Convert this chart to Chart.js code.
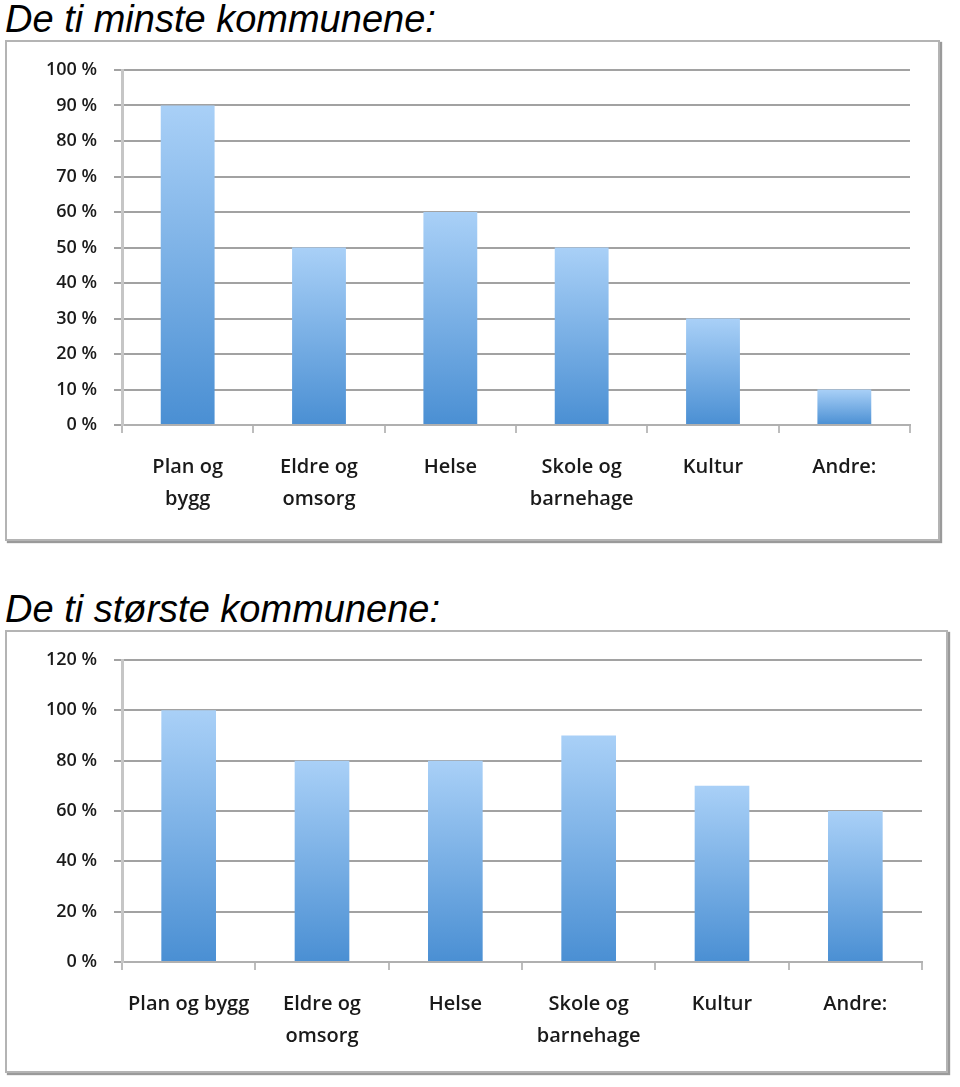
<!DOCTYPE html>
<html>
<head>
    <title>Kommunene</title>
    <script src="https://cdn.jsdelivr.net/npm/chart.js"></script>
    <style>
        body { margin: 0; background: #fff; width: 960px; height: 1087px; position: relative; overflow: hidden; }
        .title { position: absolute; left: 5px; font: italic 38px "Liberation Sans", Arial, sans-serif; line-height: 38px; color: #000; white-space: nowrap; }
        .box { position: absolute; border: 2px solid #b4b4b4; box-shadow: 2px 2px 1px #9a9a9a; background: #fff; }
        .box canvas { display: block; }
    </style>
</head>
<body>
    <div class="title" style="top:0px">De ti minste kommunene:</div>
    <div class="box" style="left:5px; top:40px; width:931px; height:497px;">
        <canvas id="chartSmall" width="931" height="497"></canvas>
    </div>

    <div class="title" style="top:590px">De ti største kommunene:</div>
    <div class="box" style="left:5px; top:630px; width:939px; height:439px;">
        <canvas id="chartLarge" width="939" height="439"></canvas>
    </div>

    <script>
        const smallLabels = [['Plan og', 'bygg'], ['Eldre og', 'omsorg'], 'Helse', ['Skole og', 'barnehage'], 'Kultur', 'Andre:'];
        const smallValues = [90, 50, 60, 50, 30, 10];

        const largeLabels = ['Plan og bygg', ['Eldre og', 'omsorg'], 'Helse', ['Skole og', 'barnehage'], 'Kultur', 'Andre:'];
        const largeValues = [100, 80, 80, 90, 70, 60];

        // each bar gets its own light-top / dark-bottom gradient
        function barGradient(ctx) {
            const chart = ctx.chart;
            const y = chart.scales.y;
            if (!chart.chartArea || !y || ctx.raw == null) return '#7fb2e8';
            const top = y.getPixelForValue(ctx.raw);
            const bottom = y.getPixelForValue(0);
            const g = chart.ctx.createLinearGradient(0, top, 0, bottom);
            g.addColorStop(0, '#a9d0f7');
            g.addColorStop(1, '#4a8fd3');
            return g;
        }

        function makeChart(id, labels, values, yMax, yStep, padRight, axisWidth, axisHeight) {
            const ctx = document.getElementById(id).getContext('2d');
            return new Chart(ctx, {
                type: 'bar',
                data: {
                    labels: labels,
                    datasets: [{
                        data: values,
                        backgroundColor: barGradient,
                        borderWidth: 0,
                        barPercentage: 0.41,
                        categoryPercentage: 1
                    }]
                },
                options: {
                    responsive: false,
                    animation: false,
                    layout: { padding: { top: 28, right: padRight, left: 0, bottom: 0 } },
                    plugins: { legend: { display: false }, tooltip: { enabled: false } },
                    scales: {
                        x: {
                            grid: { display: true, drawOnChartArea: false, offset: true, tickLength: 8, color: '#bdbdbd', lineWidth: 2 },
                            border: { display: true, color: '#b0b0b0', width: 2 },
                            ticks: {
                                color: '#1a1a1a', padding: 18, maxRotation: 0, autoSkip: false,
                                font: { family: '"Open Sans", sans-serif', size: 20, weight: '600', lineHeight: 1.6 }
                            },
                            afterFit: s => { s.height = axisHeight; }
                        },
                        y: {
                            min: 0, max: yMax,
                            grid: { color: '#a2a2a2', lineWidth: 2, tickLength: 8 },
                            border: { display: true, color: '#c6c6c6', width: 3 },
                            ticks: {
                                stepSize: yStep, padding: 17, color: '#1a1a1a',
                                font: { family: '"Open Sans", sans-serif', size: 18, weight: '600' },
                                callback: v => v + ' %'
                            },
                            afterFit: s => { s.width = axisWidth; }
                        }
                    }
                }
            });
        }

        makeChart('chartSmall', smallLabels, smallValues, 100, 10, 28, 115, 114);
        makeChart('chartLarge', largeLabels, largeValues, 120, 20, 24, 115, 109);
    </script>
</body>
</html>
